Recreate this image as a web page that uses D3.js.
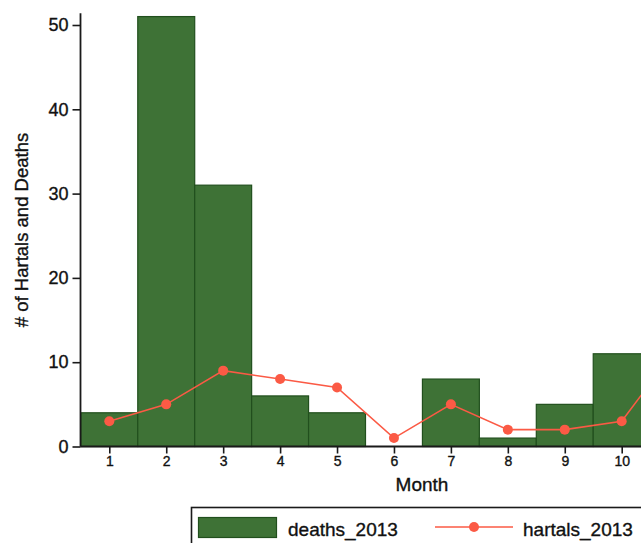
<!DOCTYPE html>
<html>
<head>
<meta charset="utf-8">
<script src="https://cdn.jsdelivr.net/npm/d3@7"></script>
<style>
  html, body { margin: 0; padding: 0; background: #fff; overflow: hidden; }
  text { font-family: "Liberation Sans", Arial, sans-serif; fill: #111; stroke: #111; stroke-width: 0.35px; }
</style>
</head>
<body>
<svg id="chart" width="641" height="543"></svg>
<script>
const months = [1, 2, 3, 4, 5, 6, 7, 8, 9, 10, 11];
const deaths2013 = [4, 51, 31, 6, 4, 0, 8, 1, 5, 11, 14];
const hartals2013 = [3, 5, 9, 8, 7, 1, 5, 2, 2, 3, 12];
const xTicks = [1, 2, 3, 4, 5, 6, 7, 8, 9, 10];
const yTicks = [0, 10, 20, 30, 40, 50];

const svg = d3.select("#chart");
const x = d3.scaleLinear().domain([1, 10]).range([109.3, 621.7]);
const y = d3.scaleLinear().domain([0, 50]).range([446.5, 25]);
const step = x(2) - x(1);
const barFill = "#3e7236", barStroke = "#214f1d", lineCol = "#fb5a45";

// bars
svg.append("g").selectAll("rect").data(months.map((m, i) => ({m, v: deaths2013[i]})).filter(d => d.v > 0))
  .join("rect")
  .attr("x", d => x(d.m) - step / 2)
  .attr("width", step)
  .attr("y", d => y(d.v))
  .attr("height", d => y(0) - y(d.v))
  .attr("fill", barFill)
  .attr("stroke", barStroke)
  .attr("stroke-width", 1.2);

// line
const pts = months.map((m, i) => ({m, v: hartals2013[i]}));
svg.append("path").datum(pts)
  .attr("d", d3.line().x(d => x(d.m)).y(d => y(d.v)))
  .attr("fill", "none").attr("stroke", lineCol).attr("stroke-width", 1.6);
svg.append("g").selectAll("circle").data(pts).join("circle")
  .attr("cx", d => x(d.m)).attr("cy", d => y(d.v)).attr("r", 5).attr("fill", lineCol);

// y axis
const yAxis = svg.append("g").attr("transform", "translate(80.5,0)")
  .call(d3.axisLeft(y).tickValues(yTicks).tickSize(8).tickPadding(4).tickFormat(d3.format("d")));
yAxis.select(".domain").attr("d", `M0,${y(51.4)}V${y(0)}`).attr("stroke", "#1a1a1a").attr("stroke-width", 1.8);
yAxis.selectAll(".tick line").attr("stroke", "#1a1a1a").attr("stroke-width", 1.6);
yAxis.selectAll(".tick text").attr("font-size", 18).attr("fill", "#111")
  .attr("font-family", "Liberation Sans, Arial, sans-serif");

// x axis
const xAxis = svg.append("g").attr("transform", `translate(0,${y(0)})`)
  .call(d3.axisBottom(x).tickValues(xTicks).tickSize(7).tickPadding(3).tickFormat(d3.format("d")));
xAxis.select(".domain").attr("d", `M80.5,0H${x(12.5)}`).attr("stroke", "#1a1a1a").attr("stroke-width", 1.8);
xAxis.selectAll(".tick line").attr("stroke", "#1a1a1a").attr("stroke-width", 1.6);
xAxis.selectAll(".tick text").attr("font-size", 14).attr("fill", "#111")
  .attr("font-family", "Liberation Sans, Arial, sans-serif");

// axis titles
svg.append("text").attr("x", 422).attr("y", 491).attr("text-anchor", "middle")
  .attr("font-size", 19).text("Month");
svg.append("text").attr("transform", "translate(28,230) rotate(-90)").attr("text-anchor", "middle")
  .attr("font-size", 18.5).text("# of Hartals and Deaths");

// legend
const lg = svg.append("g");
lg.append("rect").attr("x", 191.5).attr("y", 507.5).attr("width", 700).attr("height", 100)
  .attr("fill", "none").attr("stroke", "#1a1a1a").attr("stroke-width", 1.6);
lg.append("rect").attr("x", 198.5).attr("y", 517.5).attr("width", 78).attr("height", 20)
  .attr("fill", barFill).attr("stroke", barStroke).attr("stroke-width", 1.2);
lg.append("text").attr("x", 288).attr("y", 536).attr("font-size", 19).text("deaths_2013");
lg.append("line").attr("x1", 435).attr("x2", 513).attr("y1", 527).attr("y2", 527)
  .attr("stroke", lineCol).attr("stroke-width", 1.6);
lg.append("circle").attr("cx", 474).attr("cy", 527).attr("r", 5).attr("fill", lineCol);
lg.append("text").attr("x", 523).attr("y", 536).attr("font-size", 19).text("hartals_2013");
</script>
</body>
</html>
